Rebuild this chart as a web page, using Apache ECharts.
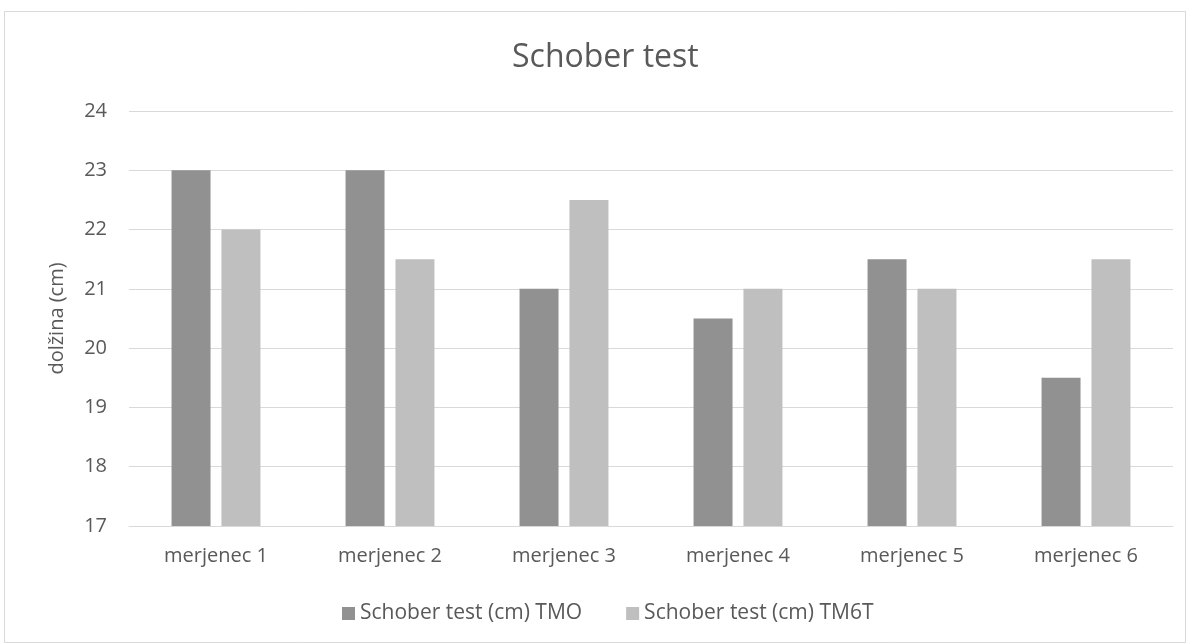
<!DOCTYPE html>
<html><head><meta charset="utf-8">
<script src="https://cdn.jsdelivr.net/npm/echarts@6/dist/echarts.min.js"></script>
<style>html,body{margin:0;padding:0;background:#fff}#c{width:1190px;height:643px}</style>
</head><body><div id="c"></div>
<script>
const categories = ['merjenec 1','merjenec 2','merjenec 3','merjenec 4','merjenec 5','merjenec 6'];
const seriesNames = ['Schober test (cm) TMO','Schober test (cm) TM6T'];
const tmo = [23, 23, 21, 20.5, 21.5, 19.5];
const tm6t = [22, 21.5, 22.5, 21, 21, 21.5];
const yMin = 17, yMax = 24, yStep = 1;

const font = '"Open Sans", "Noto Sans", sans-serif';
const chart = echarts.init(document.getElementById('c'));
chart.setOption({
  backgroundColor: '#fff',
  animation: false,
  graphic: [{type:'rect', shape:{x:4.5,y:11.5,width:1181,height:631}, style:{fill:'none', stroke:'#d9d9d9', lineWidth:1}, silent:true}],
  title: {text:'Schober test', left:507, top:37, textStyle:{fontFamily:font, fontSize:32, fontWeight:'normal', color:'#595959'}},
  legend: {top:598, left:337, itemWidth:13, itemHeight:13, itemGap:44, icon:'rect',
    textStyle:{fontFamily:font, fontSize:21, color:'#595959'}},
  grid: {left:129, right:17, top:111, bottom:117, containLabel:false},
  xAxis: {type:'category', data:categories,
    axisLine:{lineStyle:{color:'#d9d9d9', width:1}}, axisTick:{show:false},
    axisLabel:{fontFamily:font, fontSize:20, color:'#595959', margin:20}},
  yAxis: {type:'value', min:yMin, max:yMax, interval:yStep, name:'dolžina (cm)', nameLocation:'middle', nameGap:62,
    nameTextStyle:{fontFamily:font, fontSize:20, color:'#595959'},
    axisLine:{show:false}, axisTick:{show:false},
    axisLabel:{fontFamily:font, fontSize:20, color:'#595959', margin:22},
    splitLine:{lineStyle:{color:'#d9d9d9', width:1}}},
  series: [
    {name:seriesNames[0], type:'bar', data:tmo, barWidth:39, barGap:'28%', itemStyle:{color:'#919191'}},
    {name:seriesNames[1], type:'bar', data:tm6t, barWidth:39, itemStyle:{color:'#bfbfbf'}}
  ]
});
</script></body></html>
